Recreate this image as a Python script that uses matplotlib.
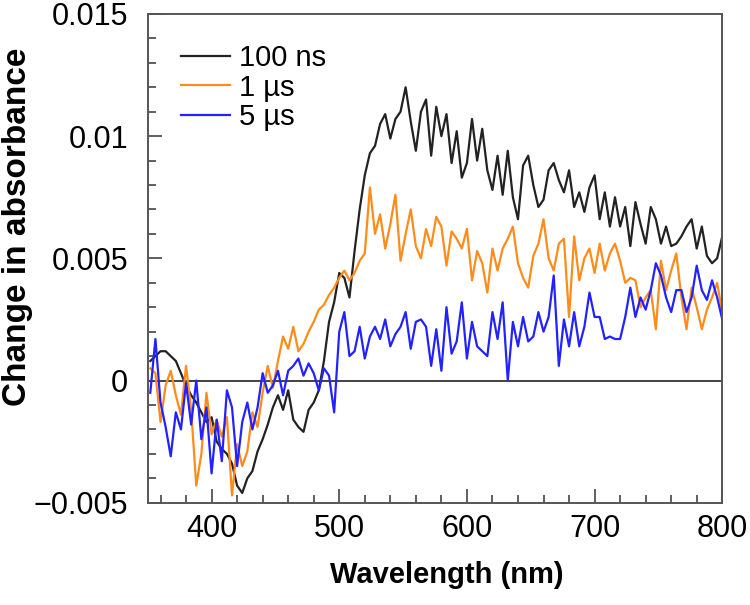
import numpy as np
import matplotlib
matplotlib.use("Agg")
import matplotlib.pyplot as plt
from matplotlib.ticker import MultipleLocator, FixedLocator, FixedFormatter

plt.rcParams['font.family'] = ['Liberation Sans', 'DejaVu Sans']

# wavelength grid (nm), 4 nm steps
wavelength = np.arange(352, 801, 4)

# change in absorbance, in units of 1e-3
abs_100ns = [
    0.8, 1.0, 1.2, 1.2, 1.0, 0.8, 0.3, -0.2, -0.6, -0.9,
    -1.3, -1.7, -1.5, -2.5, -2.8, -3.0, -3.4, -4.3, -4.6, -4.0,
    -3.7, -2.9, -2.4, -1.8, -1.1, -0.6, -1.2, -0.4, -1.6, -1.9,
    -2.1, -1.2, -0.9, -0.4, 0.8, 2.4, 3.2, 4.4, 4.2, 3.4,
    5.3, 7.0, 8.4, 9.3, 9.6, 10.5, 10.9, 9.9, 10.7, 11.0,
    12.0, 10.6, 9.4, 11.0, 11.5, 9.2, 11.2, 10.0, 10.9, 8.9,
    10.2, 8.3, 8.9, 10.7, 9.0, 10.3, 8.6, 7.8, 9.2, 7.6,
    9.4, 7.5, 6.6, 8.8, 9.2, 8.0, 7.1, 7.4, 8.6, 8.9,
    8.2, 7.7, 8.6, 7.1, 7.7, 6.9, 7.9, 8.4, 6.6, 7.7,
    6.3, 7.5, 6.3, 7.1, 5.5, 7.3, 6.4, 5.6, 7.1, 6.6,
    5.6, 6.3, 5.5, 5.6, 5.9, 6.3, 6.6, 5.4, 6.3, 5.1,
    4.8, 5.0, 5.9,
]
abs_1us = [
    0.5, 0.3, -1.7, -0.2, 0.4, -0.6, -1.4, 0.6, -1.2, -4.3,
    -3.0, -0.5, -2.2, -1.6, -2.3, -1.5, -4.7, -2.6, -3.5, -2.9,
    -1.3, -1.9, -0.5, 0.6, -0.3, 0.8, 1.8, 1.3, 2.2, 1.2,
    1.5, 2.0, 2.4, 2.9, 3.1, 3.5, 3.8, 4.2, 4.5, 4.1,
    4.4, 4.9, 5.2, 7.9, 6.0, 6.8, 5.4, 6.4, 7.6, 4.9,
    6.0, 7.0, 5.5, 5.0, 6.2, 5.5, 6.7, 6.3, 4.7, 6.1,
    5.8, 5.4, 6.2, 4.1, 5.3, 4.8, 3.6, 5.4, 4.5, 5.4,
    5.8, 6.3, 4.8, 4.2, 3.8, 5.1, 5.6, 6.6, 5.0, 4.5,
    5.6, 5.8, 2.6, 5.9, 4.1, 5.0, 5.4, 4.4, 5.6, 4.5,
    5.2, 5.6, 4.9, 4.0, 4.2, 4.1, 3.0, 3.4, 3.7, 2.1,
    4.9, 3.7, 4.5, 5.2, 3.4, 2.1, 3.8, 3.0, 2.1, 2.9,
    3.4, 4.0, 2.8,
]
abs_5us = [
    -0.5, 1.7, -0.9, -1.9, -3.1, -1.3, -2.0, -0.1, -1.8, 0.0,
    -2.4, -1.1, -3.8, -1.6, -3.3, -0.4, -1.1, -3.5, -1.7, -0.9,
    -2.0, -1.1, 0.3, -0.5, -0.2, 0.4, -0.6, 0.4, 0.6, 0.9,
    0.2, 0.7, 0.3, -0.4, 0.5, 0.2, -1.3, 2.0, 2.8, 1.0,
    1.2, 2.2, 0.9, 1.8, 2.2, 1.7, 2.5, 1.4, 1.9, 2.2,
    2.8, 1.3, 2.4, 2.5, 2.2, 0.6, 2.1, 0.4, 3.0, 1.1,
    1.6, 3.2, 0.9, 2.4, 1.4, 1.2, 1.0, 2.8, 1.7, 3.2,
    0.0, 2.4, 1.4, 2.6, 1.6, 1.8, 2.8, 2.0, 2.6, 4.3,
    0.6, 2.5, 1.4, 2.8, 1.4, 2.2, 3.6, 2.6, 2.6, 1.7,
    1.8, 1.7, 1.7, 2.6, 3.8, 2.6, 3.4, 2.9, 3.7, 4.8,
    4.3, 3.4, 2.8, 3.7, 3.7, 2.8, 3.4, 4.7, 3.7, 3.3,
    4.1, 3.4, 2.5,
]

labels = ['100 ns', '1 µs', '5 µs']
colors = ['#222222', '#ff8c1a', '#2222ff']
y_ticks = [-0.005, 0.0, 0.005, 0.01, 0.015]
y_ticklabels = ['\u22120.005', '0', '0.005', '0.01', '0.015']

fig = plt.figure(figsize=(7.5, 6.05), dpi=100)
ax = fig.add_axes([0.197, 0.169, 0.766, 0.808])

ax.axhline(0, color='#333333', lw=1.3, zorder=1)
for series, lab, col in zip([abs_100ns, abs_1us, abs_5us], labels, colors):
    ax.plot(wavelength, np.array(series) * 1e-3, color=col, lw=1.6, label=lab, zorder=2)

ax.set_xlim(350, 800)
ax.set_ylim(-0.005, 0.015)
ax.xaxis.set_major_locator(MultipleLocator(100))
ax.xaxis.set_minor_locator(MultipleLocator(20))
ax.yaxis.set_major_locator(FixedLocator(y_ticks))
ax.yaxis.set_major_formatter(FixedFormatter(y_ticklabels))
ax.yaxis.set_minor_locator(MultipleLocator(0.001))
ax.tick_params(which='both', direction='in', top=False, right=False, color='#444444', width=1.2)
ax.tick_params(which='major', length=10, labelsize=22)
ax.tick_params(axis='y', which='major', pad=14)
ax.tick_params(axis='x', which='major', pad=8)
ax.tick_params(which='minor', length=6)
for sp in ax.spines.values():
    sp.set_color('#555555')
    sp.set_linewidth(1.4)

ax.set_xlabel('Wavelength (nm)', fontsize=21, fontweight='bold')
ax.xaxis.set_label_coords(0.52, -0.12)
ax.set_ylabel('Change in absorbance', fontsize=24, fontweight='bold')
ax.yaxis.set_label_coords(-0.2, 0.565)

ax.legend(loc='upper left', frameon=False, fontsize=21, handlelength=1.7,
          handletextpad=0.3, labelspacing=0.05, borderaxespad=0.3,
          bbox_to_anchor=(0.022, 0.98))

fig.savefig('out.png', dpi=100)
